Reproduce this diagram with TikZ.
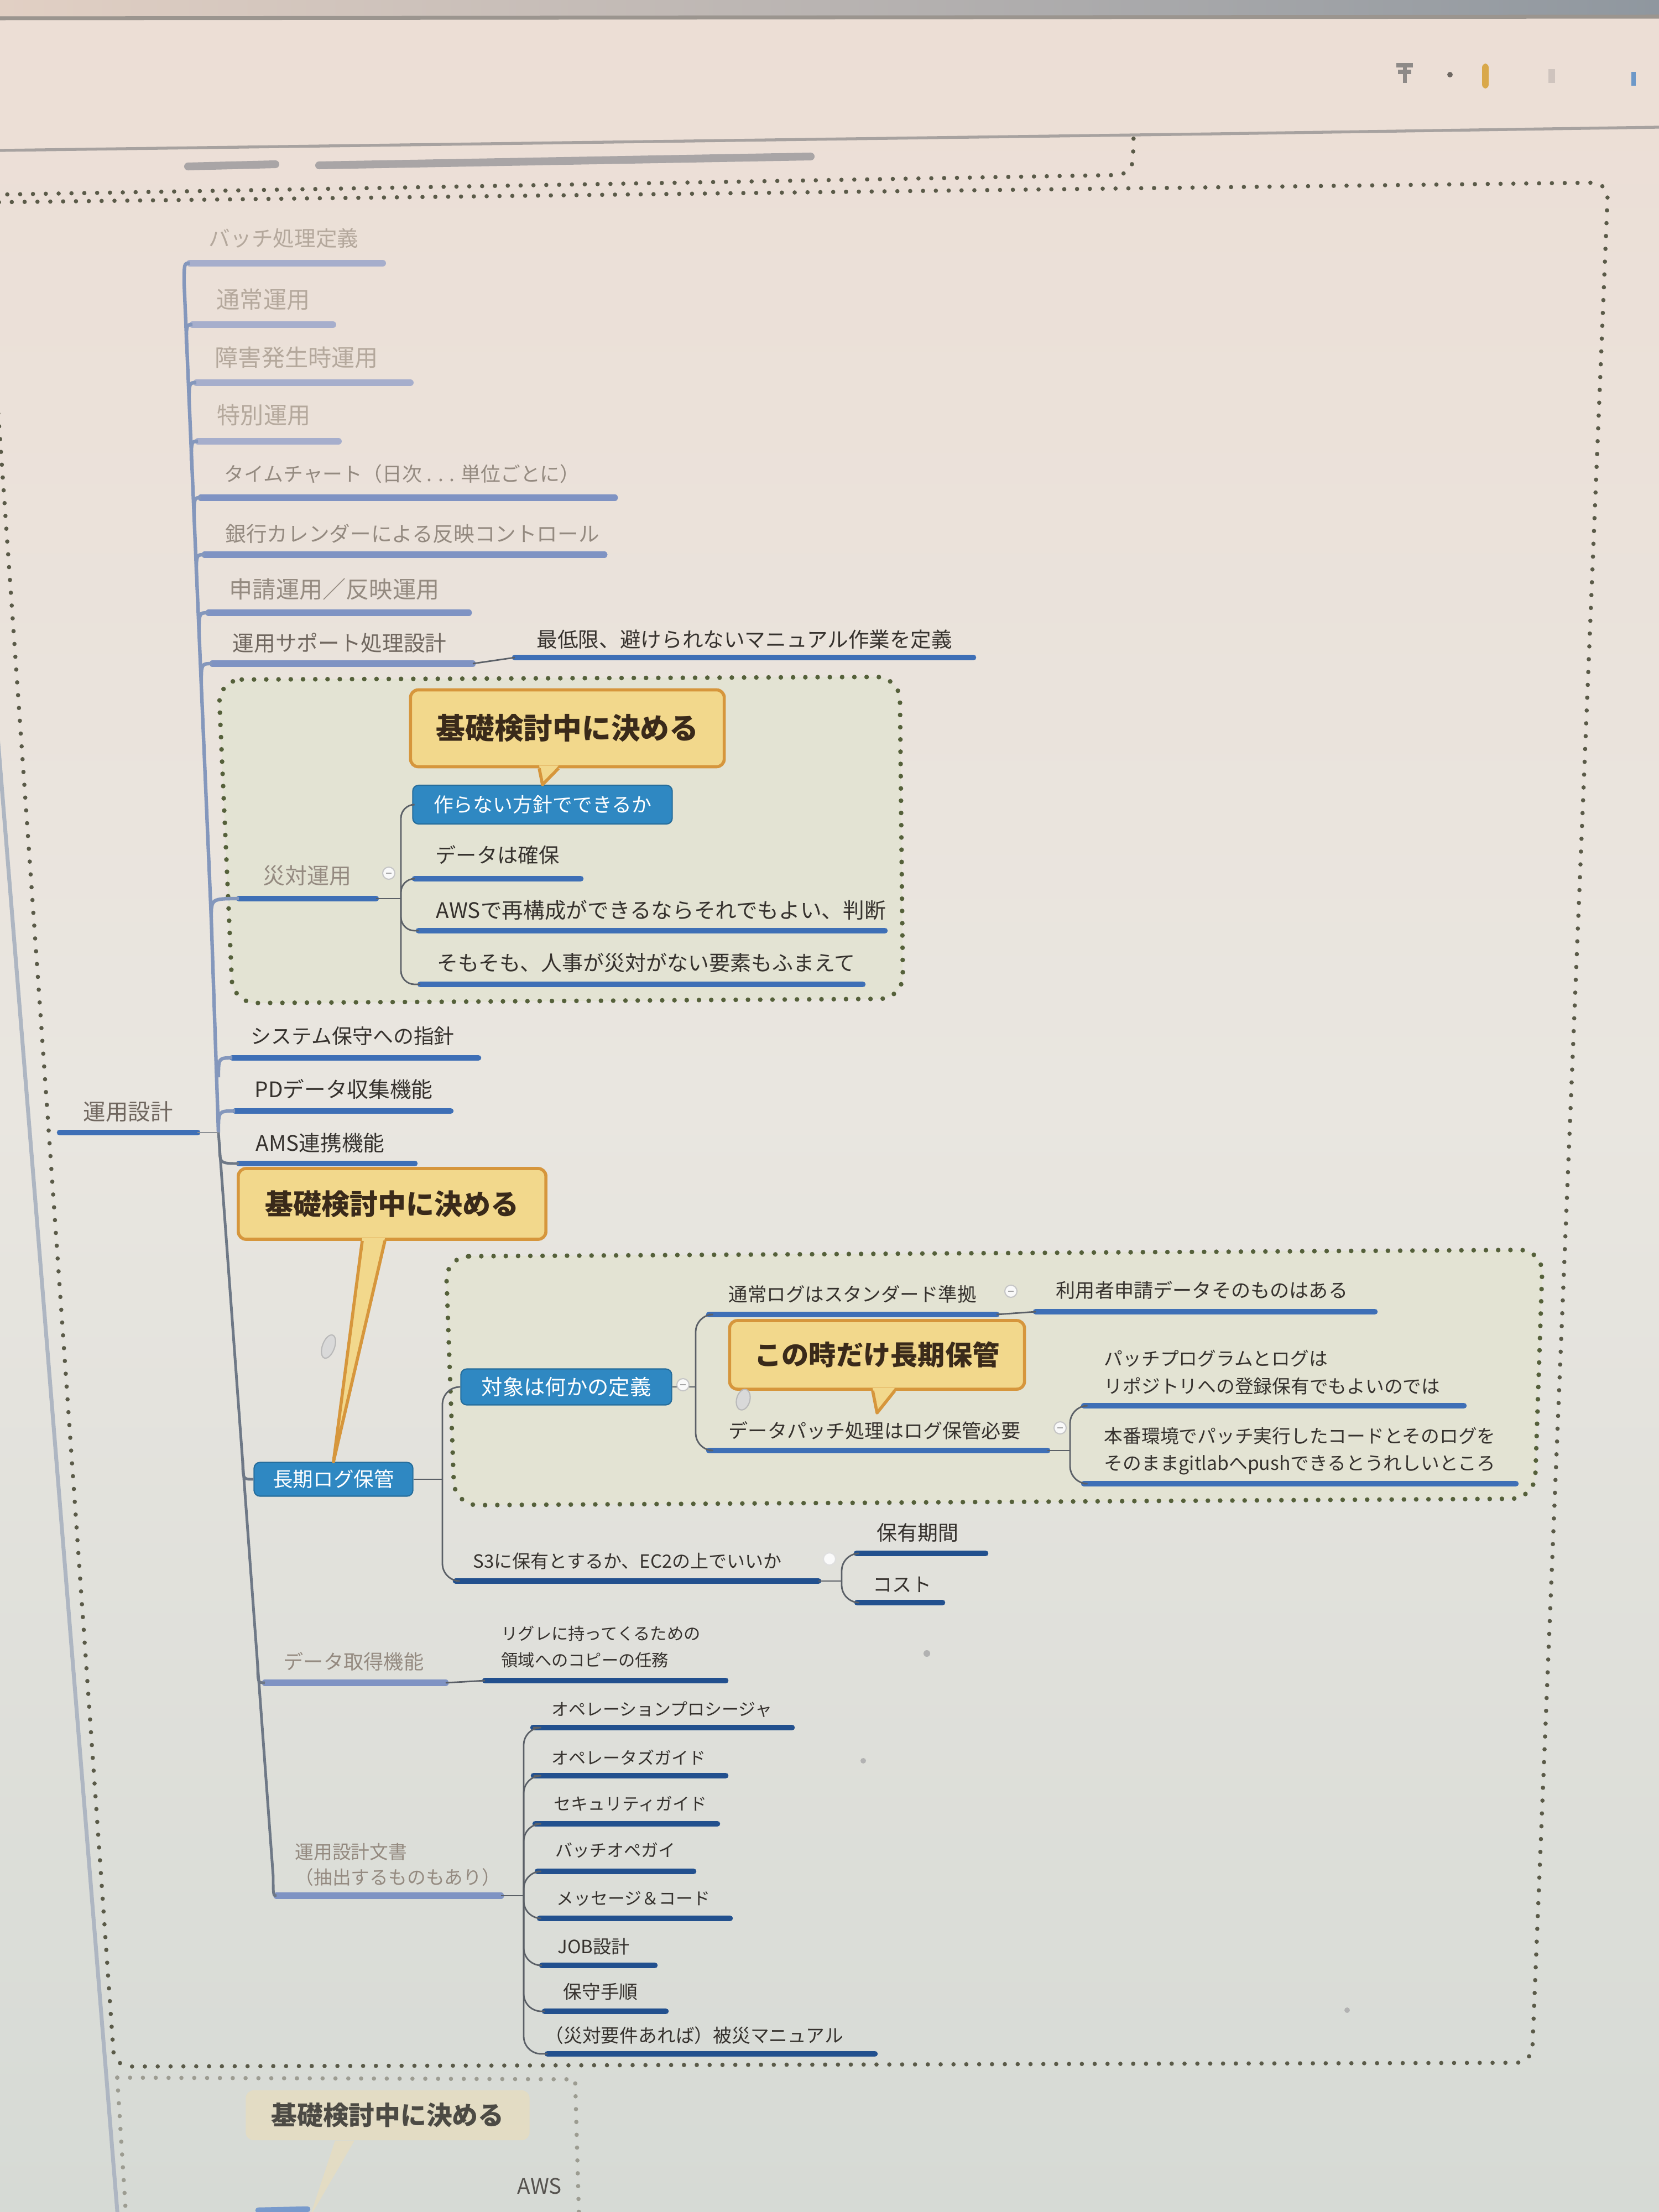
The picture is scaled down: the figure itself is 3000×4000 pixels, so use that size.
\documentclass[tikz,border=0pt]{standalone}
\usepackage{fontspec}
\setmainfont{Noto Sans CJK JP}
\usetikzlibrary{calc}

\definecolor{bgtop}{HTML}{ECDED5}
\definecolor{bgmid}{HTML}{E9E6E0}
\definecolor{bgbot}{HTML}{D6DAD5}
\definecolor{ink}{HTML}{36322E}
\definecolor{fadeAc}{HTML}{B4A89C}
\definecolor{fadeBc}{HTML}{948A80}
\definecolor{fadeCc}{HTML}{70675F}
\definecolor{ulAc}{HTML}{A6AECC}
\definecolor{ulBc}{HTML}{7F93C3}
\definecolor{ulCc}{HTML}{3E6FB6}
\definecolor{ulDc}{HTML}{22508E}
\definecolor{connc}{HTML}{5B6067}
\definecolor{trunkc}{HTML}{8497BC}
\definecolor{trunklowc}{HTML}{6E7886}
\definecolor{dotc}{HTML}{55603A}
\definecolor{framec}{HTML}{5A5A48}
\definecolor{groupfill}{HTML}{E3E3D3}
\definecolor{boxblue}{HTML}{2F88C2}
\definecolor{callfill}{HTML}{F2D88C}
\definecolor{callline}{HTML}{D6963C}
\definecolor{calltext}{HTML}{3A2A1A}
\definecolor{bezelL}{HTML}{E2D0C4}
\definecolor{bezelR}{HTML}{8F979F}
\definecolor{bezelline}{HTML}{9B958F}
\definecolor{iconA}{HTML}{8E8A88}
\definecolor{iconB}{HTML}{6E6862}
\definecolor{iconC}{HTML}{D9A84A}
\definecolor{iconD}{HTML}{CFC4BE}
\definecolor{iconE}{HTML}{6C98C8}
\definecolor{toplinec}{HTML}{A7A2A0}
\definecolor{winedge}{HTML}{AEB6C2}
\definecolor{blurbar}{HTML}{A9A5A6}
\definecolor{palecall}{HTML}{E3DCC4}
\definecolor{paletext}{HTML}{4C4A44}
\definecolor{awstext}{HTML}{55524E}

% topic: name, underline x1, underline x2, underline y, text x, text y, text style, underline style, text
\newcommand\mmtopic[9]{%
  \coordinate (#1-l) at (#2,#4);
  \coordinate (#1-r) at (#3,#4);
  \draw[#8] (#1-l) -- (#1-r);
  \node[topic,#7] (#1) at (#5,#6) {#9};
}
% bend from a spine point into a topic's left end
\newcommand\mmbend[4]{%
  \coordinate (#1) at (#2);
  \draw[#4] (#1) .. controls (#1 |- #3) .. (#3);
}
% collapse knob
\newcommand\mmknob[2]{%
  \node[knob] (#1) at (#2) {};
  \draw[gray!70, line width=0.8pt] ($(#1)+(-5,0)$) -- ($(#1)+(5,0)$);
}

\begin{document}
\begin{tikzpicture}[x=0.01cm, y=-0.01cm,
  topic/.style={inner sep=0pt, anchor=west, align=left, text=ink},
  ulA/.style={draw=ulAc, line width=3.4pt, line cap=round},
  ulB/.style={draw=ulBc, line width=3.2pt, line cap=round},
  ulC/.style={draw=ulCc, line width=3pt, line cap=round},
  ulD/.style={draw=ulDc, line width=3pt, line cap=round},
  conn/.style={draw=connc, line width=0.8pt},
  trunkup/.style={draw=trunkc, line width=1.8pt},
  trunklow/.style={draw=trunklowc, line width=1.4pt},
  groupdots/.style={draw=dotc, line width=2.4pt, dash pattern=on 0pt off 6.3pt, line cap=round},
  framedots/.style={draw=framec, line width=2.2pt, dash pattern=on 0pt off 6.6pt, line cap=round},
  bluebox/.style={fill=boxblue, draw=boxblue!80!black, line width=0.6pt, rounded corners=3pt, text=white, inner sep=0pt},
  callout/.style={fill=callfill, draw=callline, line width=1.6pt, rounded corners=4pt, text=calltext, inner sep=0pt},
  knob/.style={circle, fill=white!95!gray, draw=gray!45, line width=0.6pt, minimum size=0.22cm, inner sep=0pt},
  handle/.style={fill=gray!30, draw=gray!55, line width=0.6pt},
]
\useasboundingbox (0,0) rectangle (3000,4000);
\begin{scope}
\clip (0,0) rectangle (3000,4000);

% screen background
\shade[top color=bgtop, bottom color=bgbot, middle color=bgmid] (0,0) rectangle (3000,4000);
% monitor edge and toolbar
\shade[left color=bezelL, right color=bezelR] (0,0) rectangle (3000,32);
\draw[draw=bezelline, line width=2pt] (0,33) -- (3000,30);
\draw[draw=iconA, line width=2pt] (2525,118) -- (2555,118) (2540,118) -- (2540,150) (2528,130) -- (2552,130);
\fill[iconB] (2622,135) circle (5);
\fill[iconC, rounded corners=2pt] (2680,115) rectangle (2692,160);
\fill[iconD] (2800,125) rectangle (2812,150);
\fill[iconE] (2950,130) rectangle (2958,155);
\draw[draw=toplinec, line width=1.5pt] (0,272) -- (2200,242) -- (3000,230);

% window edge on the left
\draw[draw=winedge, line width=2pt] (-10,1260) -- (50,2000) -- (213,4010);

% upper sheet (only its lower edge is in view)
\draw[framedots, rounded corners=8pt] (-10,352) -- (2048,316) -- (2050,242);
\coordinate (u1-l) at (340,301); \coordinate (u1-r) at (498,297);
\coordinate (u2-l) at (577,299); \coordinate (u2-r) at (1466,283);
\draw[draw=blurbar, line width=4pt, line cap=round] (u1-l) -- (u1-r) (u2-l) -- (u2-r);

% outer boundary of the main branch
\draw[framedots, rounded corners=8pt] (-30,366) -- (2908,330) -- (2770,3730) -- (207,3737) -- cycle;

% lower sheet
\draw[framedots, draw=framec!60] (212,3757) -- (1040,3760) -- (1047,4010);
\draw[framedots, draw=framec!60] (212,3757) -- (228,4010);

% ---------------- upper topics ----------------
\mmtopic{t1}{343}{692}{476}{377}{431}{text=fadeAc, font=\fontsize{11}{13}\selectfont}{ulA}{バッチ処理定義}
\mmtopic{t2}{348}{602}{587}{391}{542}{text=fadeAc, font=\fontsize{12}{14}\selectfont}{ulA}{通常運用}
\mmtopic{t3}{355}{742}{692}{388}{647}{text=fadeAc, font=\fontsize{12}{14}\selectfont}{ulA}{障害発生時運用}
\mmtopic{t4}{358}{612}{798}{392}{751}{text=fadeAc, font=\fontsize{12}{14}\selectfont}{ulA}{特別運用}
\mmtopic{t5}{363}{1112}{900}{405}{857}{text=fadeBc, font=\fontsize{10.2}{12}\selectfont}{ulB}{タイムチャート（日次 . . . 単位ごとに）}
\mmtopic{t6}{370}{1093}{1003}{407}{965}{text=fadeBc, font=\fontsize{10.7}{12}\selectfont}{ulB}{銀行カレンダーによる反映コントロール}
\mmtopic{t7}{377}{848}{1108}{414}{1065}{text=fadeBc, font=\fontsize{12}{14}\selectfont}{ulB}{申請運用／反映運用}
\mmtopic{t8}{384}{855}{1200}{420}{1163}{text=fadeCc, font=\fontsize{11}{13}\selectfont}{ulB}{運用サポート処理設計}
\mmtopic{t8a}{931}{1760}{1189}{970}{1156}{font=\fontsize{10.7}{13}\selectfont}{ulC}{最低限、避けられないマニュアル作業を定義}
\draw[conn] (t8-r) -- (t8a-l);

% ---------------- disaster-recovery group ----------------
\filldraw[fill=groupfill, groupdots, rounded corners=12pt] (395,1229) -- (1627,1224) -- (1633,1806) -- (421,1814) -- cycle;
\mmtopic{d0}{432}{680}{1625}{475}{1583}{text=fadeBc, font=\fontsize{11.4}{13}\selectfont}{ulC}{災対運用}
\node[bluebox, minimum width=4.69cm, minimum height=0.70cm, font=\fontsize{10.2}{12}\selectfont] (d1) at (981,1455) {作らない方針でできるか};
\mmtopic{d2}{750}{1050}{1589}{787}{1546}{font=\fontsize{10.6}{13}\selectfont}{ulC}{データは確保}
\mmtopic{d3}{757}{1600}{1683}{788}{1646}{font=\fontsize{11}{13}\selectfont}{ulC}{AWSで再構成ができるならそれでもよい、判断}
\mmtopic{d4}{760}{1560}{1780}{790}{1741}{font=\fontsize{10.8}{13}\selectfont}{ulC}{そもそも、人事が災対がない要素もふまえて}
\coordinate (d0sp) at (725,1625);
\draw[conn] (d0-r) -- (d0sp);
\draw[conn, rounded corners=7pt] (d0sp) |- (d1.west);
\draw[conn, rounded corners=7pt] (d0sp) |- (d2-l);
\draw[conn, rounded corners=7pt] (d0sp) |- (d3-l);
\draw[conn, rounded corners=7pt] (d0sp) |- (d4-l);
\mmknob{k1}{703,1579}

% ---------------- root ----------------
\mmtopic{r}{108}{357}{2048}{150}{2010}{text=fadeCc, font=\fontsize{11.5}{13}\selectfont}{ulC}{運用設計}
\mmtopic{s1}{420}{865}{1913}{453}{1873}{font=\fontsize{10.5}{13}\selectfont}{ulC}{システム保守への指針}
\mmtopic{s2}{425}{815}{2009}{460}{1970}{font=\fontsize{11}{13}\selectfont}{ulC}{PDデータ収集機能}
\mmtopic{s3}{432}{750}{2104}{462}{2067}{font=\fontsize{11}{13}\selectfont}{ulC}{AMS連携機能}

% ---------------- long-term log group ----------------
\node[bluebox, minimum width=2.87cm, minimum height=0.61cm, font=\fontsize{10.4}{12}\selectfont] (L) at (603,2675) {長期ログ保管};
\filldraw[fill=groupfill, groupdots, rounded corners=12pt] (806,2272) -- (2790,2260) -- (2775,2710) -- (822,2722) -- cycle;
\node[bluebox, minimum width=3.81cm, minimum height=0.65cm, font=\fontsize{10.9}{12}\selectfont] (L1) at (1024,2508) {対象は何かの定義};
\mmtopic{L1a}{1282}{1802}{2377}{1317}{2340}{font=\fontsize{9.8}{12}\selectfont}{ulC}{通常ログはスタンダード準拠}
\mmtopic{L1a1}{1873}{2486}{2372}{1909}{2333}{font=\fontsize{10}{12}\selectfont}{ulC}{利用者申請データそのものはある}
\mmtopic{L1b}{1282}{1894}{2623}{1317}{2587}{font=\fontsize{10}{12}\selectfont}{ulC}{データパッチ処理はログ保管必要}
\mmtopic{L1b1}{1960}{2647}{2542}{1996}{2482}{font=\fontsize{9.6}{14.2}\selectfont}{ulC}{パッチプログラムとログは\\リポジトリへの登録保有でもよいのでは}
\mmtopic{L1b2}{1960}{2741}{2683}{1996}{2624}{font=\fontsize{9.6}{13.8}\selectfont}{ulC}{本番環境でパッチ実行したコードとそのログを\\そのままgitlabへpushできるとうれしいところ}
\mmtopic{L2}{824}{1480}{2859}{855}{2823}{font=\fontsize{9.4}{12}\selectfont}{ulD}{S3に保有とするか、EC2の上でいいか}
\mmtopic{L2a}{1549}{1782}{2809}{1585}{2772}{font=\fontsize{10.5}{12}\selectfont}{ulD}{保有期間}
\mmtopic{L2b}{1550}{1704}{2898}{1578}{2865}{font=\fontsize{10}{12}\selectfont}{ulD}{コスト}

\coordinate (Lsp) at (800,2675);
\draw[conn] (L.east) -- (Lsp);
\draw[conn, rounded corners=9pt] (Lsp) |- (L1.west);
\draw[conn, rounded corners=9pt] (Lsp) |- (L2-l);
\coordinate (L1sp) at (1258,2508);
\draw[conn] (L1.east) -- (L1sp);
\draw[conn, rounded corners=9pt] (L1sp) |- (L1a-l);
\draw[conn, rounded corners=9pt] (L1sp) |- (L1b-l);
\draw[conn] (L1a-r) -- (L1a1-l);
\coordinate (L1bsp) at (1935,2623);
\draw[conn] (L1b-r) -- (L1bsp);
\draw[conn, rounded corners=9pt] (L1bsp) |- (L1b1-l);
\draw[conn, rounded corners=9pt] (L1bsp) |- (L1b2-l);
\coordinate (L2sp) at (1522,2859);
\draw[conn] (L2-r) -- (L2sp);
\draw[conn, rounded corners=9pt] (L2sp) |- (L2a-l);
\draw[conn, rounded corners=9pt] (L2sp) |- (L2b-l);
\mmknob{k2}{1235,2504}
\mmknob{k3}{1828,2335}
\mmknob{k4}{1917,2582}
\node[knob, draw=gray!25, fill=white!60!gray!10] (k5) at (1500,2819) {};

% ---------------- data and documents ----------------
\mmtopic{G}{479}{806}{3043}{512}{3005}{text=fadeBc, font=\fontsize{10.3}{12}\selectfont}{ulB}{データ取得機能}
\mmtopic{G1}{877}{1312}{3039}{906}{2978}{font=\fontsize{8.6}{13.7}\selectfont}{ulD}{リグレに持ってくるための\\領域へのコピーの任務}
\draw[conn] (G-r) -- (G1-l);
\mmtopic{H}{500}{906}{3428}{533}{3372}{text=fadeBc, font=\fontsize{9.6}{13}\selectfont}{ulB}{運用設計文書\\（抽出するものもあり）}
\mmtopic{H1}{964}{1432}{3124}{997}{3091}{font=\fontsize{8.8}{11}\selectfont}{ulD}{オペレーションプロシージャ}
\mmtopic{H2}{965}{1312}{3211}{997}{3178}{font=\fontsize{8.8}{11}\selectfont}{ulD}{オペレータズガイド}
\mmtopic{H3}{968}{1297}{3298}{1001}{3262}{font=\fontsize{8.8}{11}\selectfont}{ulD}{セキュリティガイド}
\mmtopic{H4}{972}{1254}{3384}{1004}{3346}{font=\fontsize{8.8}{11}\selectfont}{ulD}{バッチオペガイ}
\mmtopic{H5}{976}{1320}{3469}{1006}{3433}{font=\fontsize{8.8}{11}\selectfont}{ulD}{メッセージ＆コード}
\mmtopic{H6}{980}{1184}{3554}{1008}{3520}{font=\fontsize{9.4}{11}\selectfont}{ulD}{JOB設計}
\mmtopic{H7}{985}{1204}{3637}{1018}{3602}{font=\fontsize{9.6}{11}\selectfont}{ulD}{保守手順}
\mmtopic{H8}{990}{1582}{3714}{985}{3681}{font=\fontsize{9.6}{11}\selectfont}{ulD}{（災対要件あれば）被災マニュアル}
\coordinate (Hsp) at (947,3428);
\draw[conn] (H-r) -- (Hsp);
\foreach \c in {H1,H2,H3,H4,H5,H6,H7,H8}
  \draw[conn, rounded corners=9pt] (Hsp) |- (\c-l);

% ---------------- main spine from the root ----------------
\mmbend{sp1}{333,513}{t1-l}{trunkup}
\mmbend{sp2}{337,622}{t2-l}{trunkup}
\mmbend{sp3}{342,727}{t3-l}{trunkup}
\mmbend{sp4}{346,833}{t4-l}{trunkup}
\mmbend{sp5}{351,935}{t5-l}{trunkup}
\mmbend{sp6}{355,1038}{t6-l}{trunkup}
\mmbend{sp7}{360,1143}{t7-l}{trunkup}
\mmbend{sp8}{364,1235}{t8-l}{trunkup}
\mmbend{sp9}{382,1660}{d0-l}{trunkup}
\mmbend{sp10}{395,1948}{s1-l}{trunkup}
\mmbend{sp11}{395,2044}{s2-l}{trunkup}
\coordinate (spJ) at (395,2048);
\mmbend{sp12}{397,2069}{s3-l}{trunklow}
\mmbend{sp13}{439,2640}{L.west}{trunklow}
\mmbend{sp14}{466,3008}{G-l}{trunklow}
\mmbend{sp15}{494,3393}{H-l}{trunklow}
\draw[trunkup] (sp1) -- (sp9) -- (spJ);
\draw[trunklow] (spJ) -- (sp15);
\draw[conn, draw=connc!70] (r-r) -- (spJ);

% ---------------- callouts ----------------
\node[callout, minimum width=5.67cm, minimum height=1.39cm, font=\fontsize{15}{18}\selectfont\bfseries] (c1) at (1026,1317) {基礎検討中に決める};
\coordinate (c1a) at ($(c1.south)+(-51,-5)$);
\coordinate (c1b) at ($(c1.south)+(-16,-5)$);
\fill[callfill] (c1a) -- (d1.north) -- (c1b) -- cycle;
\draw[callline, line width=1.6pt, line join=round] ($(c1a)+(0,5)$) -- (d1.north) -- ($(c1b)+(0,5)$);

\node[callout, minimum width=5.56cm, minimum height=1.28cm, font=\fontsize{14.5}{17}\selectfont\bfseries] (c2) at (709,2177) {基礎検討中に決める};
\coordinate (c2a) at ($(c2.south)+(-54,-5)$);
\coordinate (c2b) at ($(c2.south)+(-13,-5)$);
\fill[callfill] (c2a) -- (L.north) -- (c2b) -- cycle;
\draw[callline, line width=1.6pt, line join=round] ($(c2a)+(0,5)$) -- (L.north) -- ($(c2b)+(0,5)$);

\node[callout, minimum width=5.33cm, minimum height=1.24cm, font=\fontsize{14}{17}\selectfont\bfseries] (c3) at (1586,2450) {この時だけ長期保管};
\coordinate (c3tip) at (1586,2555);
\coordinate (c3a) at ($(c3.south)+(-8,-5)$);
\coordinate (c3b) at ($(c3.south)+(32,-5)$);
\fill[callfill] (c3a) -- (c3tip) -- (c3b) -- cycle;
\draw[callline, line width=1.6pt, line join=round] ($(c3a)+(0,5)$) -- (c3tip) -- ($(c3b)+(0,5)$);

% callout grips
\filldraw[handle, rotate around={-20:(594,2435)}] (594,2435) ellipse [x radius=11, y radius=22];
\filldraw[handle, rotate around={-15:(1344,2531)}] (1344,2531) ellipse [x radius=12, y radius=19];

% specks
\fill[gray!60] (1676,2990) circle (6);
\fill[gray!60] (1561,3184) circle (5);
\fill[gray!60] (2436,3635) circle (5);

% ---------------- lower sheet content ----------------
\node[fill=palecall, rounded corners=4pt, minimum width=5.13cm, minimum height=0.9cm, inner sep=0pt, text=paletext, font=\fontsize{13.3}{16}\selectfont\bfseries] (c4) at (701,3825) {基礎検討中に決める};
\coordinate (c4tip) at (560,4010);
\fill[palecall] ($(c4.south)+(-95,0)$) -- (c4tip) -- ($(c4.south)+(-60,0)$) -- cycle;
\node[topic, text=awstext, font=\fontsize{11}{13}\selectfont] (aws) at (935,3953) {AWS};
\coordinate (b1-l) at (467,3997); \coordinate (b1-r) at (556,3995);
\draw[ulC, draw=ulCc!70] (b1-l) -- (b1-r);
\end{scope}
\end{tikzpicture}
\end{document}
